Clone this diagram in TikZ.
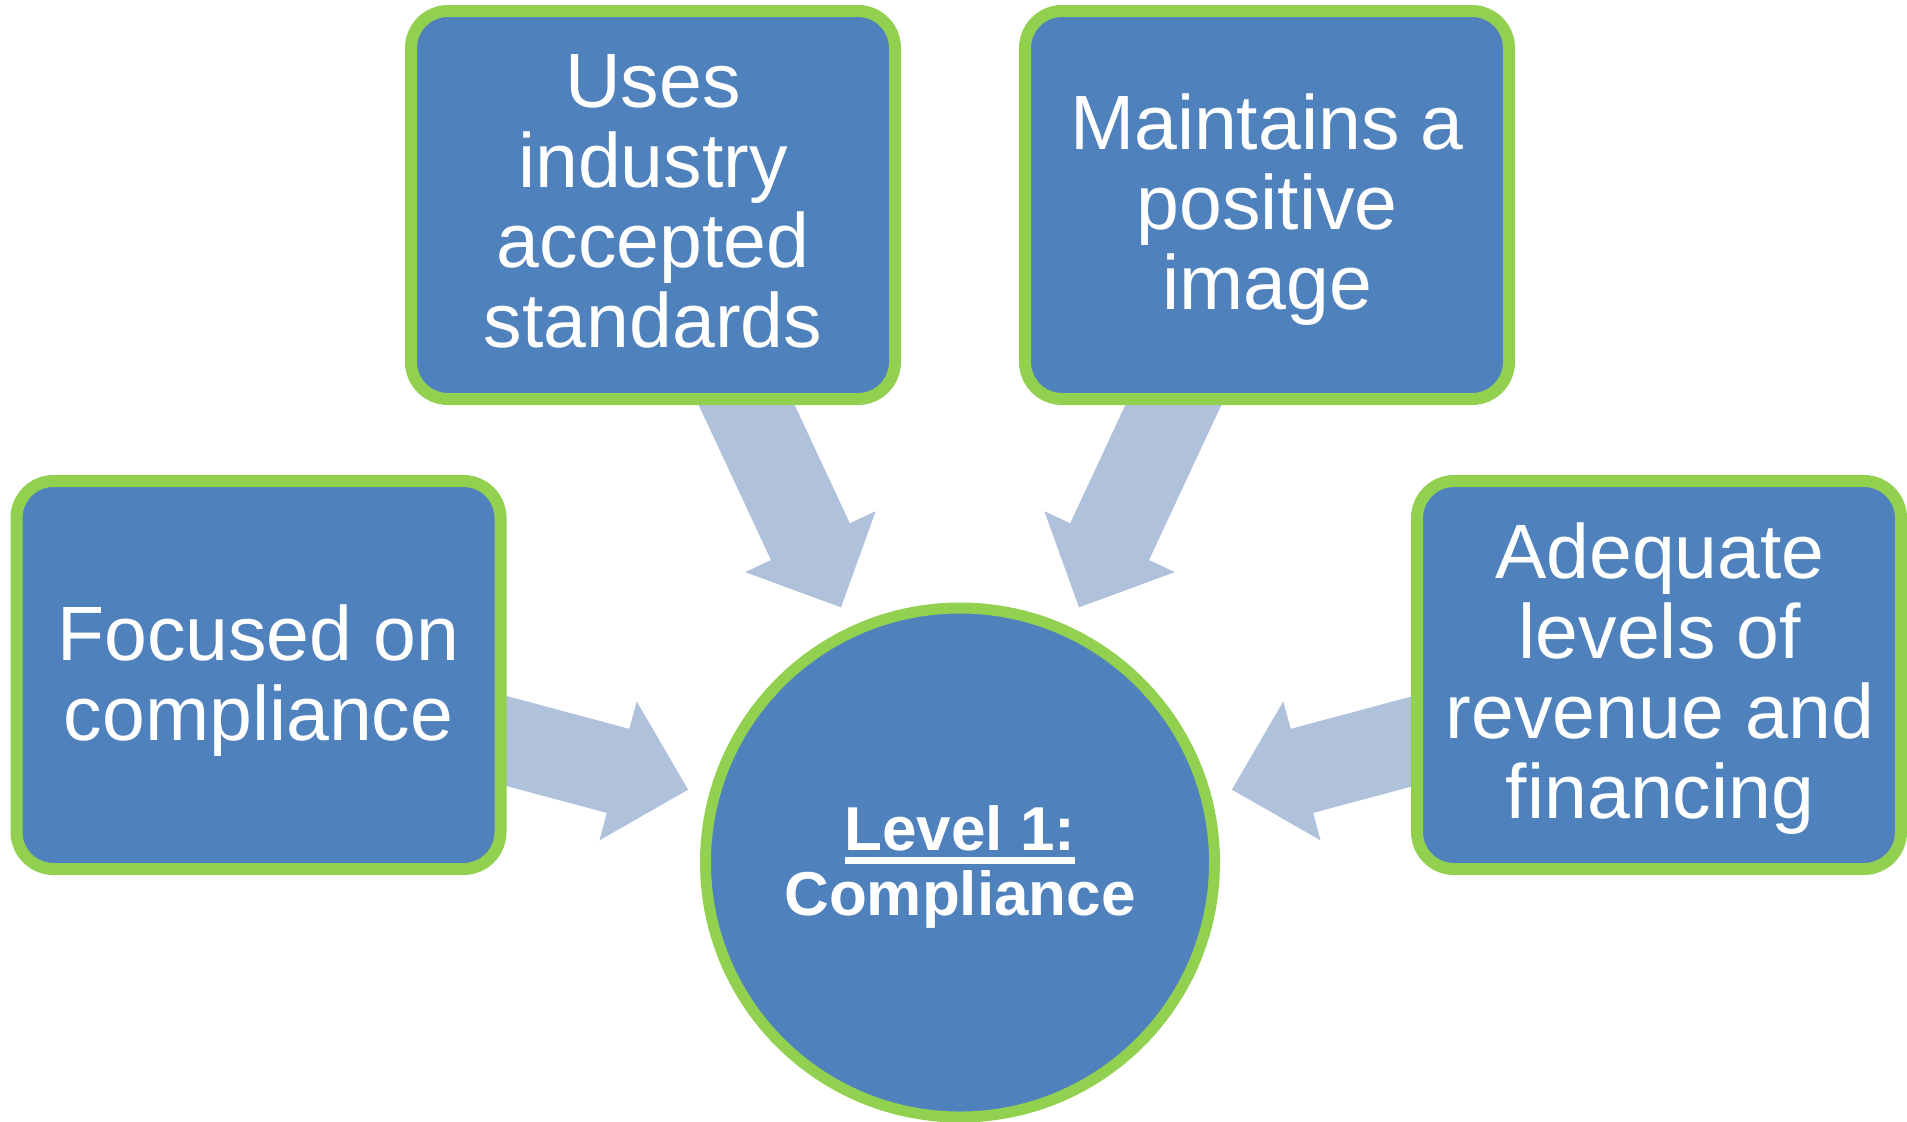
\documentclass[tikz,border=0pt]{standalone}
\usepackage{fontspec}
\setmainfont{Liberation Sans}
\usetikzlibrary{calc,backgrounds}
\definecolor{boxblue}{HTML}{4F81BD}
\definecolor{boxgreen}{HTML}{92D050}
\definecolor{arrowblue}{HTML}{B0C1DC}
\newcommand{\myul}[1]{\setbox0=\hbox{#1}\rlap{\rule[-13.5pt]{\wd0}{6.7pt}}\box0}
\newcommand{\blockarr}[1]{%
  \pgfmathsetmacro{\aL}{#1+90}%
  \pgfmathsetmacro{\aR}{#1-90}%
  \fill[arrowshape] ($(core.center)+(#1:560)+(\aL:43.5)$) -- ($(core.center)+(#1:354)+(\aL:43.5)$)
    -- ($(core.center)+(#1:354)+(\aL:72)$) -- ($(core.center)+(#1:281.5)$)
    -- ($(core.center)+(#1:354)+(\aR:72)$) -- ($(core.center)+(#1:354)+(\aR:43.5)$)
    -- ($(core.center)+(#1:560)+(\aR:43.5)$) -- cycle;}
\begin{document}
\begin{tikzpicture}[x=1pt,y=1pt,
  box/.style={draw=boxgreen, fill=boxblue, line width=12pt, rounded corners=37pt,
    minimum width=484pt, minimum height=388pt, inner sep=0pt},
  corecircle/.style={circle, draw=boxgreen, fill=boxblue, line width=11pt,
    minimum size=509pt, inner sep=0pt},
  boxtext/.style={text=white, align=center, inner sep=0pt, font=\fontsize{77}{80}\selectfont},
  coretext/.style={text=white, align=center, inner sep=0pt, font=\bfseries\fontsize{62}{64.5}\selectfont},
  arrowshape/.style={fill=arrowblue, draw=none}]
\useasboundingbox (0,0) rectangle (1907,-1122);
% boxes
\node[box] (b1) at (258.5,-675) {};
\node[box] (b2) at (653,-205) {};
\node[box] (b3) at (1267,-205) {};
\node[box] (b4) at (1659,-675) {};
\node[corecircle] (core) at (960,-862.5) {};
% texts
\node[boxtext] (t1) at (258.5,-680.8) {Focused on\\compliance};
\node[boxtext] (t2) at (653,-201.3) {Uses\\industry\\accepted\\standards};
\node[boxtext] (t3) at (1267,-209.8) {Maintains a\\positive\\image};
\node[boxtext] (t4) at (1660,-678.8) {Adequate\\levels of\\revenue and\\financing};
\node[coretext] (ct) at (960,-866.8) {\myul{Level 1:}\\Compliance};
% block arrows behind
\begin{scope}[on background layer]
  \blockarr{165}
  \blockarr{115}
  \blockarr{65}
  \blockarr{15}
\end{scope}
\end{tikzpicture}
\end{document}
